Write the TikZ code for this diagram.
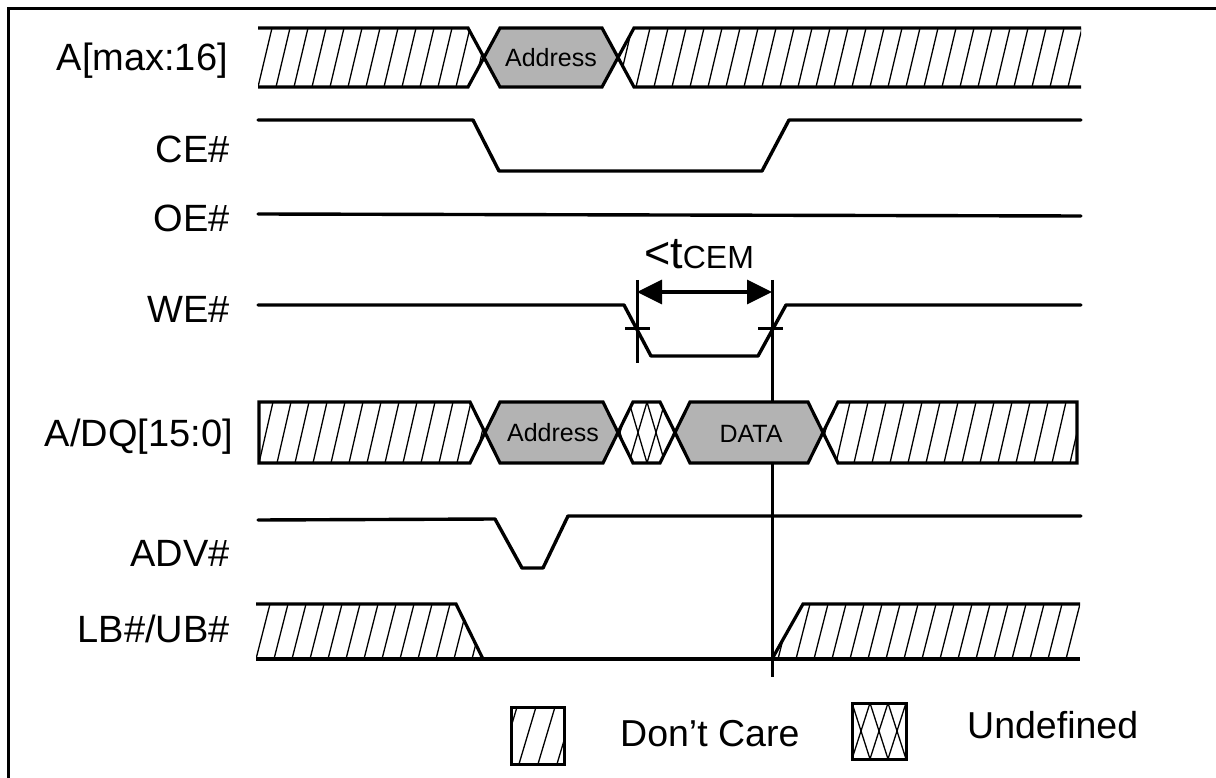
\documentclass[tikz,border=0pt]{standalone}
\usepackage{fontspec}
\setmainfont{Liberation Sans}
\usetikzlibrary{arrows.meta}
\definecolor{busgray}{HTML}{B3B3B3}
\newcommand\dcHatch[4]{\foreach \i in {0,...,#2} {\draw[hatchln] ({#1+18*\i},#4) -- ({#1+18*\i+14},#3);}}
\newcommand\udHatch[4]{\foreach \i in {0,...,#2} {\draw[hatchln] ({#1+18*\i},#4) -- ({#1+18*\i+18},#3); \draw[hatchln] ({#1+18*\i},#3) -- ({#1+18*\i+18},#4);}}
\tikzset{
  sig/.style={line width=3.4pt, line cap=round, line join=round},
  busline/.style={line width=3.2pt, line join=miter},
  hatchln/.style={line width=1.3pt},
  lbl/.style={anchor=base east, font=\fontsize{38}{42}\selectfont, inner sep=0pt},
  bustext/.style={font=\fontsize{25}{28}\selectfont, text=black, inner sep=0pt},
  legtext/.style={anchor=base west, font=\fontsize{37.5}{42}\selectfont, inner sep=0pt},
  markln/.style={line width=3pt},
  dimarrow/.style={line width=3.5pt, {Triangle[length=25pt,width=24pt]}-{Triangle[length=25pt,width=24pt]}}
}
\begin{document}
\begin{tikzpicture}[x=1pt,y=-1pt]
\useasboundingbox (0,0) rectangle (1216,778);
% frame
\draw[line width=3pt] (8,778) -- (8,9) -- (1216,9);

% labels
\node[lbl] (lA)   at (228,71)  {A[max:16]};
\node[lbl] (lCE)  at (230,163) {CE\#};
\node[lbl] (lOE)  at (230,232) {OE\#};
\node[lbl] (lWE)  at (230,322) {WE\#};
\node[lbl] (lDQ)  at (233,446) {A/DQ[15:0]};
\node[lbl] (lADV) at (230,566) {ADV\#};
\node[lbl] (lLB)  at (230,642) {LB\#/UB\#};

% ---------- A[max:16]
\begin{scope}
\clip (258,28) -- (468,28) -- (484,57.5) -- (468,87) -- (258,87) -- cycle;
\dcHatch{240}{14}{28}{87}
\end{scope}
\begin{scope}
\clip (618,57.5) -- (634,28) -- (1081,28) -- (1081,87) -- (634,87) -- cycle;
\dcHatch{600}{27}{28}{87}
\end{scope}
\fill[busgray] (484,57.5) -- (500,28) -- (602,28) -- (618,57.5) -- (602,87) -- (500,87) -- cycle;
\draw[busline] (258,28) -- (468,28) -- (500,87) -- (602,87) -- (634,28) -- (1081,28);
\draw[busline] (258,87) -- (468,87) -- (500,28) -- (602,28) -- (634,87) -- (1081,87);
\node[bustext] (addrA) at (551,58) {Address};

% ---------- CE#
\draw[sig] (258,120) -- (473,120) -- (499,171) -- (762,171) -- (789,120) -- (1081,120);
% ---------- OE#
\draw[sig] (258,214) -- (1081,216);
% ---------- WE#
\draw[sig] (258,305) -- (624,305) -- (651,356) -- (758,356) -- (786,305) -- (1081,305);

% timing markers
\coordinate (mLt) at (637,280);
\coordinate (mLb) at (637,363);
\coordinate (mRt) at (772,280);
\coordinate (mRb) at (772,677);
\draw[markln] (mLt) -- (mLb);
\draw[markln] (mRt) -- (mRb);
\draw[markln] (625,328) -- (650,328);
\draw[markln] (758,328) -- (783,328);
\coordinate (aL) at (637,292);
\coordinate (aR) at (772,292);
\draw[dimarrow] (aL) -- (aR);
\node[inner sep=0pt, anchor=base] (tcem) at (699,269) {\fontsize{45}{48}\selectfont<t\fontsize{32}{35}\selectfont CEM};

% ---------- A/DQ[15:0]
\begin{scope}
\clip (259,402) -- (470,402) -- (485,432.5) -- (470,463) -- (259,463) -- cycle;
\dcHatch{241}{14}{402}{463}
\end{scope}
\begin{scope}
\clip (618,432.5) -- (633,402) -- (660,402) -- (675,432.5) -- (660,463) -- (633,463) -- cycle;
\udHatch{611}{4}{402}{463}
\end{scope}
\begin{scope}
\clip (823,432.5) -- (838,402) -- (1077,402) -- (1077,463) -- (838,463) -- cycle;
\dcHatch{818}{15}{402}{463}
\end{scope}
\fill[busgray] (485,432.5) -- (500,402) -- (603,402) -- (618,432.5) -- (603,463) -- (500,463) -- cycle;
\fill[busgray] (675,432.5) -- (690,402) -- (808,402) -- (823,432.5) -- (808,463) -- (690,463) -- cycle;
\draw[busline] (259,402) -- (470,402) -- (500,463) -- (603,463) -- (633,402) -- (660,402) -- (690,463) -- (808,463) -- (838,402) -- (1077,402) -- (1077,463) -- (838,463) -- (808,402) -- (690,402) -- (660,463) -- (633,463) -- (603,402) -- (500,402) -- (470,463) -- (259,463) -- cycle;
\node[bustext] (addrDQ) at (553,433) {Address};
\node[bustext] (data) at (751,434) {DATA};

% ---------- ADV#
\draw[sig] (258,520) -- (495,519) -- (522,568) -- (543,568) -- (568,516) -- (1081,516);

% ---------- LB#/UB#
\begin{scope}
\clip (256,604) -- (456,604) -- (483,659) -- (256,659) -- cycle;
\dcHatch{238}{14}{604}{659}
\end{scope}
\begin{scope}
\clip (772,659) -- (803,604) -- (1080,604) -- (1080,659) -- cycle;
\dcHatch{760}{18}{604}{659}
\end{scope}
\draw[busline] (256,604) -- (456,604) -- (483,659);
\draw[busline] (256,659) -- (1080,659);
\draw[busline] (772,659) -- (803,604) -- (1080,604);

% ---------- legend
\begin{scope}
\clip (511,707) rectangle (564,764);
\foreach \i in {0,...,3} {\draw[hatchln] ({500+19*\i},764) -- ({500+19*\i+17},707);}
\end{scope}
\draw[line width=3pt] (511,707) rectangle (564,764);
\node[legtext] (ldc) at (620,746) {Don’t Care};
\begin{scope}
\clip (852,703) rectangle (906,759);
\udHatch{852}{2}{703}{759}
\end{scope}
\draw[line width=3pt] (852,703) rectangle (906,759);
\node[legtext] (lud) at (967,738) {Undefined};
\end{tikzpicture}
\end{document}
